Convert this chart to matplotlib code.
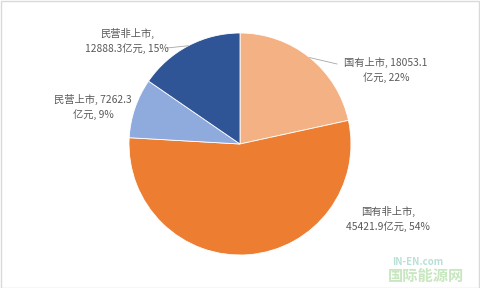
import numpy as np
import matplotlib.pyplot as plt
from matplotlib.patches import Rectangle

plt.rcParams['font.family'] = ['Noto Sans CJK SC', 'DejaVu Sans']

# data
names = ['国有上市', '国有非上市', '民营上市', '民营非上市']
values = [18053.1, 45421.9, 7262.3, 12888.3]
colors = ['#F4B183', '#ED7D31', '#8FAADC', '#2F5597']

W, H = 480, 288
cx, cy, R = 240, 144, 111

fig = plt.figure(figsize=(W / 100, H / 100), dpi=100)
fig.patch.set_facecolor('white')
ax = fig.add_axes([(cx - R) / W, (H - cy - R) / H, 2 * R / W, 2 * R / H])
wedges, _ = ax.pie(values, colors=colors, startangle=90, counterclock=False,
                   radius=1, wedgeprops=dict(linewidth=0.6, edgecolor='white'))
ax.set_xlim(-1, 1)
ax.set_ylim(-1, 1)
ax.axis('off')

total = sum(values)
pct = [round(v / total * 100) for v in values]
texts = [
    f'{names[0]}, {values[0]}\n亿元, {pct[0]}%',
    f'{names[1]},\n{values[1]}亿元, {pct[1]}%',
    f'{names[2]}, {values[2]}\n亿元, {pct[2]}%',
    f'{names[3]},\n{values[3]}亿元, {pct[3]}%',
]
# label centres in pixels (layout)
label_pos = [(386, 70), (388, 219), (93, 107), (127, 41)]
# leader line end points in pixels, None if no line
line_end = [(337, 64), None, None, (167, 48)]

def to_data(px, py):
    return (px - cx) / R, (cy - py) / R

for i, w in enumerate(wedges):
    x, y = to_data(*label_pos[i])
    ax.text(x, y, texts[i], ha='center', va='center', fontsize=7.4,
            color='#595959', linespacing=1.5, clip_on=False)
    if line_end[i] is not None:
        mid = np.deg2rad((w.theta1 + w.theta2) / 2)
        ex, ey = to_data(*line_end[i])
        ax.plot([np.cos(mid), ex], [np.sin(mid), ey], color='#A6A6A6',
                lw=0.6, clip_on=False)

# watermark
fig.text(392 / W, 1 - 262 / H, 'IN-EN.com', color='#B8E0D8', fontsize=7,
         fontweight='bold', style='italic', ha='left', va='center')
fig.text(388 / W, 1 - 276 / H, '国际能源网', color='#C8E6C0', fontsize=11,
         fontweight='bold', ha='left', va='center')

fig.add_artist(Rectangle((0.5 / W, 0.5 / H), 1 - 1.5 / W, 1 - 1.5 / H,
                         transform=fig.transFigure, fill=False,
                         edgecolor='#D9D9D9', lw=1))

fig.savefig('out.png', dpi=100)
